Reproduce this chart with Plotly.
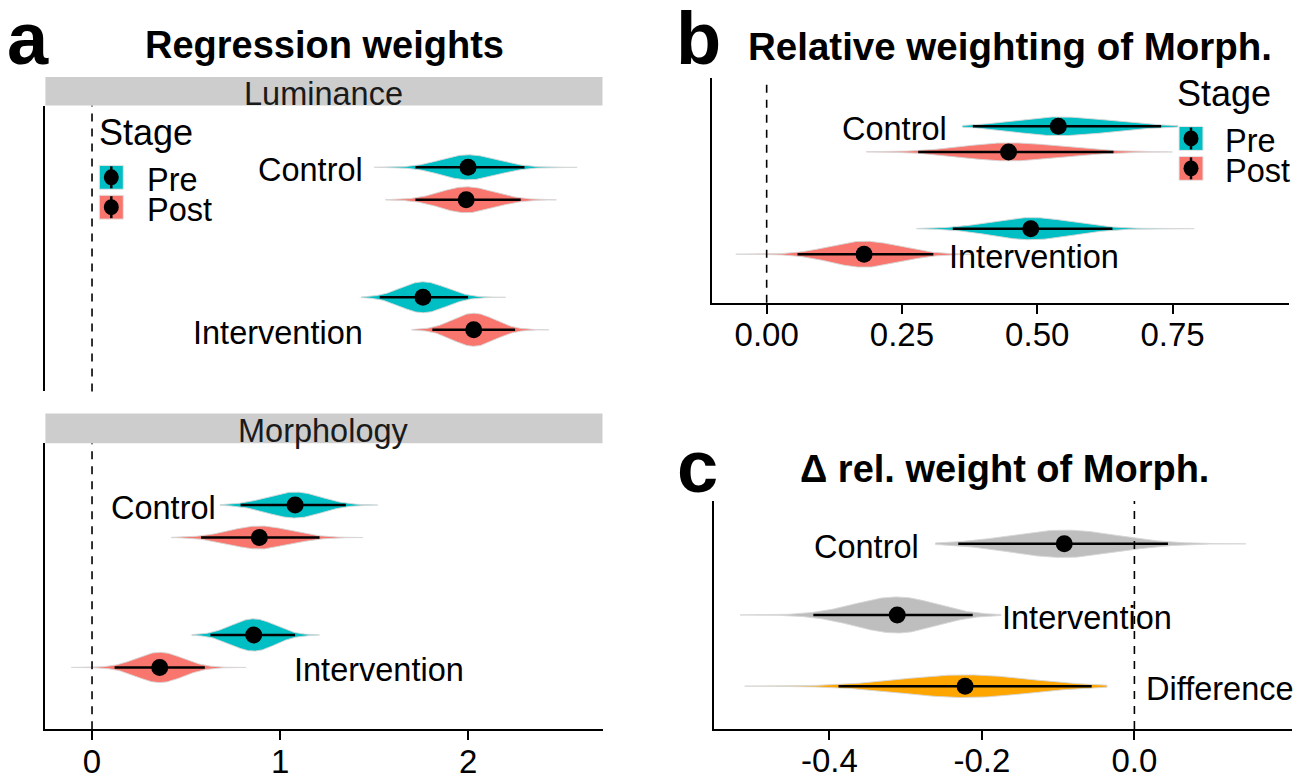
import numpy as np
import plotly.graph_objects as go

# ---------------- data ----------------
groups = ["Control", "Control", "Intervention", "Intervention"]
stages = ["Pre", "Post", "Pre", "Post"]

# Panel a – Luminance regression weights
lum_mean = [2.00, 1.99, 1.76, 2.03]
lum_lower = [1.72, 1.72, 1.53, 1.81]
lum_upper = [2.30, 2.28, 2.00, 2.25]
lum_min = [1.50, 1.56, 1.43, 1.70]
lum_max = [2.58, 2.47, 2.20, 2.43]

# Panel a – Morphology regression weights
morph_mean = [1.08, 0.89, 0.86, 0.36]
morph_lower = [0.79, 0.58, 0.63, 0.12]
morph_upper = [1.35, 1.21, 1.08, 0.60]
morph_min = [0.68, 0.42, 0.53, -0.11]
morph_max = [1.52, 1.44, 1.21, 0.82]

# Panel b – relative weighting of morphology
rel_mean = [0.539, 0.447, 0.488, 0.180]
rel_lower = [0.381, 0.280, 0.344, 0.057]
rel_upper = [0.729, 0.641, 0.639, 0.308]
rel_min = [0.362, 0.184, 0.277, -0.057]
rel_max = [0.76, 0.75, 0.79, 0.38]

# Panel c – change in relative weight of morphology
delta_labels = ["Control", "Intervention", "Difference"]
delta_mean = [-0.092, -0.311, -0.222]
delta_lower = [-0.231, -0.421, -0.388]
delta_upper = [0.044, -0.212, -0.056]
delta_min = [-0.261, -0.517, -0.511]
delta_max = [0.146, -0.175, -0.036]

# tick labels
a_ticks = [0, 1, 2]
a_ticktext = ["0", "1", "2"]
b_ticks = [0, 0.25, 0.5, 0.75]
b_ticktext = ["0.00", "0.25", "0.50", "0.75"]
c_ticks = [-0.4, -0.2, 0.0]
c_ticktext = ["-0.4", "-0.2", "0.0"]

# ---------------- styling ----------------
W, H = 1308, 780
FONT = "Liberation Sans, Arial, Helvetica, sans-serif"
STAGE_COL = {"Pre": "#00BFC4", "Post": "#F8766D"}
DELTA_COL = ["#BEBEBE", "#BEBEBE", "#FFA500"]
GROUP_Y = {"Control": 2.0, "Intervention": 1.0}
DODGE = {"Pre": 0.125, "Post": -0.125}
OUTLINE = "rgba(215,215,215,0.9)"
TEXT_SHIFT = -3


def px_x(p):
    return p / W


def px_y(p):
    return 1 - p / H


fig = go.Figure()


def add_eye(xa, ya, m, lo, hi, mn, mx, yc, color, scale):
    sd_l = (m - lo) / 1.96
    sd_r = (hi - m) / 1.96
    xs = np.linspace(mn, mx, 300)
    sd = np.where(xs < m, sd_l, sd_r)
    f = np.exp(-0.5 * ((xs - m) / sd) ** 2)
    h = scale / (hi - lo)
    px = np.concatenate([xs, xs[::-1]])
    py = np.concatenate([yc + h * f, (yc - h * f)[::-1]])
    fig.add_trace(go.Scatter(x=px, y=py, mode="lines", fill="toself",
                             fillcolor=color, line=dict(color=OUTLINE, width=1),
                             xaxis=xa, yaxis=ya, hoverinfo="skip", showlegend=False))


def add_pointinterval(xa, ya, m, lo, hi, yc):
    fig.add_trace(go.Scatter(x=[lo, hi], y=[yc, yc], mode="lines",
                             line=dict(color="black", width=2.5),
                             xaxis=xa, yaxis=ya, hoverinfo="skip", showlegend=False))
    fig.add_trace(go.Scatter(x=[m], y=[yc], mode="markers",
                             marker=dict(color="black", size=17),
                             xaxis=xa, yaxis=ya, showlegend=False))


def add_panel(xa, ya, mean, lower, upper, mins, maxs, scale):
    ys = [GROUP_Y[g] + DODGE[s] for g, s in zip(groups, stages)]
    for i in range(len(mean)):
        add_eye(xa, ya, mean[i], lower[i], upper[i], mins[i], maxs[i], ys[i],
                STAGE_COL[stages[i]], scale)
    for i in range(len(mean)):
        add_pointinterval(xa, ya, mean[i], lower[i], upper[i], ys[i])
    return ys


ys_lum = add_panel("x", "y", lum_mean, lum_lower, lum_upper, lum_min, lum_max, 0.056)
ys_mor = add_panel("x2", "y2", morph_mean, morph_lower, morph_upper, morph_min, morph_max, 0.056)
ys_rel = add_panel("x3", "y3", rel_mean, rel_lower, rel_upper, rel_min, rel_max, 0.032)

ys_delta = [3, 2, 1]
for i in range(3):
    add_eye("x4", "y4", delta_mean[i], delta_lower[i], delta_upper[i],
            delta_min[i], delta_max[i], ys_delta[i], DELTA_COL[i], 0.053)
for i in range(3):
    add_pointinterval("x4", "y4", delta_mean[i], delta_lower[i], delta_upper[i], ys_delta[i])

# ---------------- axes ----------------
tickfont = dict(family=FONT, size=33, color="black")
ax_common = dict(showgrid=False, zeroline=False, fixedrange=True)
line_style = dict(linecolor="black", linewidth=2)
xtick_style = dict(ticks="outside", ticklen=9, tickwidth=2, tickcolor="black",
                   tickfont=tickfont, ticklabelstandoff=-7)
a_dom = [px_x(45.4), px_x(602.5)]
fig.update_layout(
    xaxis=dict(domain=a_dom, range=[-0.248, 2.715], anchor="y", showline=False,
               showticklabels=False, ticks="", **ax_common),
    yaxis=dict(domain=[px_y(393), px_y(106)], range=[0.4, 2.6], anchor="x",
               showline=True, ticks="", showticklabels=False, **ax_common, **line_style),
    xaxis2=dict(domain=a_dom, range=[-0.248, 2.715], anchor="y2", showline=True,
                tickvals=a_ticks, ticktext=a_ticktext, **xtick_style, **ax_common, **line_style),
    yaxis2=dict(domain=[px_y(732), px_y(445)], range=[0.4, 2.6], anchor="x2",
                showline=True, ticks="", showticklabels=False, **ax_common, **line_style),
    xaxis3=dict(domain=[px_x(712), px_x(1289.4)], range=[-0.101, 0.966], anchor="y3",
                showline=True, tickvals=b_ticks, ticktext=b_ticktext,
                **xtick_style, **ax_common, **line_style),
    yaxis3=dict(domain=[px_y(304), px_y(78)], range=[0.4, 2.6], anchor="x3",
                showline=True, ticks="", showticklabels=False, **ax_common, **line_style),
    xaxis4=dict(domain=[px_x(714.2), px_x(1291.5)], range=[-0.551, 0.206], anchor="y4",
                showline=True, tickvals=c_ticks, ticktext=c_ticktext,
                **xtick_style, **ax_common, **line_style),
    yaxis4=dict(domain=[px_y(731.7), px_y(503)], range=[0.4, 3.6], anchor="x4",
                showline=True, ticks="", showticklabels=False, **ax_common, **line_style),
)

shapes = []
annotations = []

# dashed zero lines
for xr, yr in [("x", "y"), ("x2", "y2"), ("x3", "y3"), ("x4", "y4")]:
    shapes.append(dict(type="line", xref=xr, yref=yr + " domain", x0=0, x1=0, y0=0, y1=1,
                       line=dict(color="black", width=1.6, dash="8px,7px"), layer="above"))

# facet strips
for (t, b, label) in [(77.3, 106, "Luminance"), (415, 445, "Morphology")]:
    shapes.append(dict(type="rect", xref="paper", yref="paper", x0=a_dom[0], x1=a_dom[1],
                       y0=px_y(b), y1=px_y(t), fillcolor="#CDCDCD", line=dict(width=0)))
    annotations.append(dict(text=label, xref="paper", yref="paper", x=(a_dom[0] + a_dom[1]) / 2,
                            y=px_y((t + b) / 2), xanchor="center", yanchor="middle", showarrow=False,
                            yshift=TEXT_SHIFT, borderpad=0,
                            font=dict(family=FONT, size=32.5, color="#1a1a1a")))

# titles and panel letters
for text, cx, cy, size in [("Regression weights", 324.5, 42, 38),
                           ("Relative weighting of Morph.", 1010, 44, 38.5),
                           ("Δ rel. weight of Morph.", 1004, 468, 38)]:
    annotations.append(dict(text="<b>%s</b>" % text, xref="paper", yref="paper", x=px_x(cx), y=px_y(cy),
                            xanchor="center", yanchor="middle", showarrow=False,
                            yshift=TEXT_SHIFT, borderpad=0,
                            font=dict(family=FONT, size=size, color="black")))
for text, cx, cy in [("a", 28, 39), ("b", 698, 39), ("c", 697, 468)]:
    annotations.append(dict(text="<b>%s</b>" % text, xref="paper", yref="paper", x=px_x(cx), y=px_y(cy),
                            xanchor="center", yanchor="middle", showarrow=False, borderpad=0,
                            font=dict(family=FONT, size=74, color="black")))

# group labels
lab_font = dict(family=FONT, size=32.5, color="black")
for xr, yr, text, x, y, anchor in [
    ("x", "y", "Control", 1.445, ys_lum[0], "right"),
    ("x", "y", "Intervention", 1.445, ys_lum[3], "right"),
    ("x2", "y2", "Control", 0.666, ys_mor[0], "right"),
    ("x2", "y2", "Intervention", 1.070, ys_mor[3], "left"),
    ("x3", "y3", "Control", 0.336, ys_rel[0], "right"),
    ("x3", "y3", "Intervention", 0.336, ys_rel[3], "left"),
    ("x4", "y4", "Control", -0.2816, ys_delta[0], "right"),
    ("x4", "y4", "Intervention", -0.1743, ys_delta[1], "left"),
    ("x4", "y4", "Difference", 0.0138, ys_delta[2], "left"),
]:
    annotations.append(dict(text=text, xref=xr, yref=yr, x=x, y=y, xanchor=anchor,
                            yanchor="middle", showarrow=False, font=lab_font, borderpad=0,
                            yshift=TEXT_SHIFT))


# legends (Stage)
def add_legend(title_x, title_y, key_x, key_tops, text_x):
    annotations.append(dict(text="Stage", xref="paper", yref="paper", x=px_x(title_x), y=px_y(title_y),
                            xanchor="left", yanchor="middle", showarrow=False, borderpad=0,
                            yshift=TEXT_SHIFT,
                            font=dict(family=FONT, size=36, color="black")))
    for stage, top in zip(["Pre", "Post"], key_tops):
        shapes.append(dict(type="rect", xref="paper", yref="paper", x0=px_x(key_x), x1=px_x(key_x + 24),
                           y0=px_y(top + 24), y1=px_y(top), fillcolor=STAGE_COL[stage],
                           line=dict(color="#E6E6E6", width=1)))
        cx = key_x + 12
        cy = top + 12
        shapes.append(dict(type="line", xref="paper", yref="paper", x0=px_x(cx), x1=px_x(cx),
                           y0=px_y(top + 23), y1=px_y(top + 1), line=dict(color="black", width=2.5)))
        shapes.append(dict(type="circle", xref="paper", yref="paper", x0=px_x(cx - 7.5), x1=px_x(cx + 7.5),
                           y0=px_y(cy + 8), y1=px_y(cy - 8), fillcolor="black", line=dict(width=0)))
        annotations.append(dict(text=stage, xref="paper", yref="paper", x=px_x(text_x), y=px_y(cy),
                                xanchor="left", yanchor="middle", showarrow=False, borderpad=0,
                                yshift=TEXT_SHIFT,
                                font=dict(family=FONT, size=32.5, color="black")))


add_legend(98, 130, 99.3, [166, 196], 146)
add_legend(1176, 91, 1179, [127, 157], 1224)

fig.update_layout(
    width=W, height=H, margin=dict(l=0, r=0, t=0, b=0),
    paper_bgcolor="white", plot_bgcolor="rgba(0,0,0,0)",
    shapes=shapes, annotations=annotations, showlegend=False,
    font=dict(family=FONT),
)

fig.write_html("out.html")
